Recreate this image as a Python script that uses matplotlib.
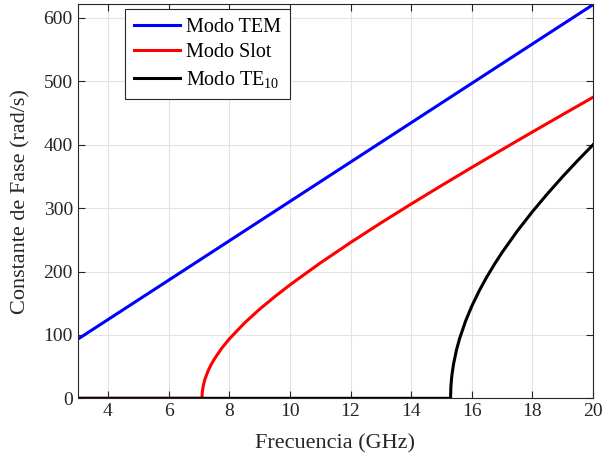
import numpy as np
import matplotlib
matplotlib.use('Agg')
import matplotlib.pyplot as plt

## values
freq_tem = [3, 6, 10, 14, 17, 20]
beta_tem = [93.2, 186.3, 310.5, 434.7, 527.9, 621.0]

freq_slot = [3, 5, 7.1, 7.11, 7.13, 7.15, 7.2, 7.3, 7.4, 7.5, 7.75, 8, 8.5,
             9, 9.5, 10, 11, 12, 13, 14, 15, 16, 17, 18, 19, 20]
beta_slot = [0, 0, 0, 9.5, 16.4, 21.4, 30.4, 43.1, 53.0, 61.4, 78.9, 93.6,
             118.7, 140.5, 160.3, 178.9, 213.4, 245.7, 276.6, 306.5, 335.6,
             364.2, 392.3, 420.1, 447.6, 474.9]

freq_te = [3, 8, 12, 15.3, 15.31, 15.33, 15.35, 15.4, 15.5, 15.6, 15.8, 16,
           16.25, 16.5, 16.75, 17, 17.5, 18, 18.5, 19, 19.5, 20]
beta_te = [0, 0, 0, 0, 17.2, 29.8, 38.4, 54.4, 77.1, 94.5, 122.4, 145.3,
           170.0, 191.8, 211.6, 230.1, 263.8, 294.4, 322.9, 349.8, 375.4,
           399.9]

plt.rcParams['font.family'] = ['Liberation Serif', 'DejaVu Serif']
plt.rcParams['mathtext.fontset'] = 'stix'
plt.rcParams['mathtext.default'] = 'regular'

fig = plt.figure(figsize=(6.05, 4.71), dpi=100)
ax = fig.add_axes([0.1284, 0.1543, 0.8518, 0.8372])

ax.plot(freq_tem, beta_tem, color='#0000ff', lw=2.2, label='Modo TEM')
ax.plot(freq_slot, beta_slot, color='#ff0000', lw=2.2, label='Modo Slot')
ax.plot(freq_te, beta_te, color='black', lw=2.2, label='Modo TE$_{10}$')

ax.set_xlim(3, 20)
ax.set_ylim(0, 622)
ax.set_xticks(np.arange(4, 21, 2))
ax.set_yticks(np.arange(0, 601, 100))
ax.grid(True, color='#e3e3e3', lw=0.8)
ax.set_axisbelow(True)

for s in ax.spines.values():
    s.set_color('#262626')
    s.set_linewidth(0.8)
ax.tick_params(direction='in', top=True, right=True, labelsize=14,
               colors='#262626', length=5, width=0.8)

ax.set_xlabel('Frecuencia (GHz)', fontsize=16, color='#262626', labelpad=10)
ax.set_ylabel('Constante de Fase (rad/s)', fontsize=16, color='#262626',
              labelpad=9)

leg = ax.legend(loc='upper left', bbox_to_anchor=(0.092, 0.988),
                borderaxespad=0, fontsize=14.5,
                fancybox=False, edgecolor='#262626', framealpha=1,
                handlelength=2.3, borderpad=0.45, labelspacing=0.32,
                handletextpad=0.25)
leg.get_frame().set_linewidth(0.8)

fig.savefig('out.png', dpi=100)
